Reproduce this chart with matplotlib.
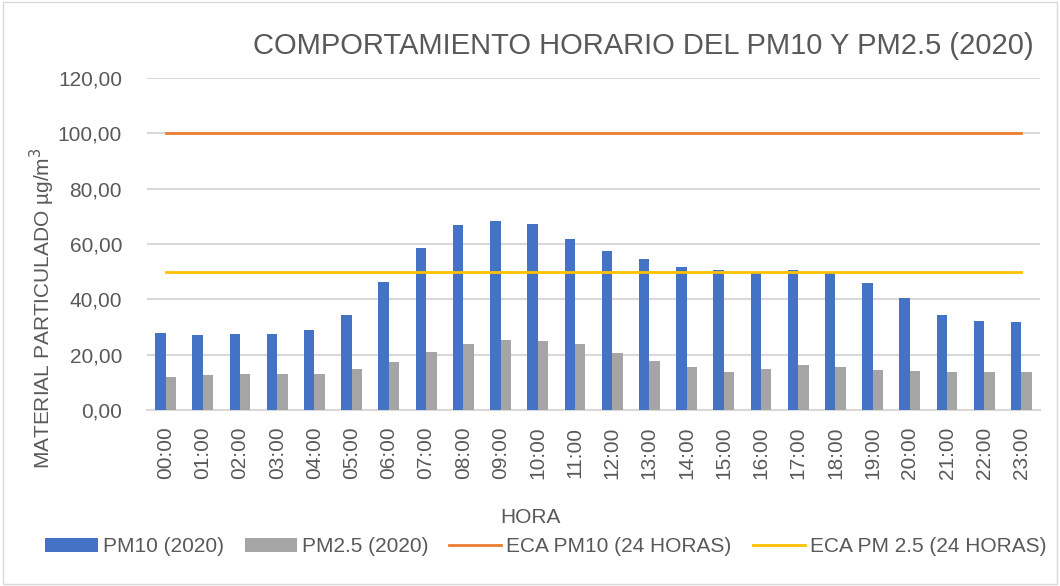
import matplotlib.pyplot as plt
import numpy as np
from matplotlib.patches import Rectangle

plt.rcParams['font.family'] = ['Liberation Sans', 'DejaVu Sans']

horas = ["%02d:00" % h for h in range(24)]
pm10 = [27.7, 27.2, 27.5, 27.3, 28.8, 34.2, 46.1, 58.4, 66.7, 68.3, 67.2, 61.8,
        57.3, 54.6, 51.7, 50.6, 49.5, 50.6, 49.8, 46.0, 40.6, 34.2, 32.2, 31.7]
pm25 = [12.0, 12.8, 12.9, 13.0, 12.9, 14.7, 17.3, 21.1, 23.7, 25.4, 25.0, 23.7,
        20.6, 17.8, 15.5, 13.7, 14.7, 16.3, 15.4, 14.3, 14.1, 13.6, 13.6, 13.7]
eca_pm10 = [100] * 24
eca_pm25 = [50] * 24

text_color = '#595959'
grid_color = '#d9d9d9'

fig = plt.figure(figsize=(10.6, 5.86), dpi=100)
fig.patches.append(Rectangle((0.003, 0.003), 0.994, 0.994, transform=fig.transFigure,
                             fill=False, edgecolor=grid_color, linewidth=1))
ax = fig.add_axes([0.1387, 0.3003, 0.8425, 0.5666])

x = np.arange(len(horas))
w = 0.28
b1 = ax.bar(x - w / 2, pm10, w, color='#4472C4', label='PM10 (2020)', zorder=3)
b2 = ax.bar(x + w / 2, pm25, w, color='#A5A5A5', label='PM2.5 (2020)', zorder=3)
l1, = ax.plot(x, eca_pm10, color='#ED7D31', linewidth=2, label='ECA PM10 (24 HORAS)', zorder=4)
l2, = ax.plot(x, eca_pm25, color='#FFC000', linewidth=2, label='ECA PM 2.5 (24 HORAS)', zorder=4)

ax.set_xlim(-0.5, 23.5)
ax.set_ylim(0, 120)
ax.set_yticks(range(0, 121, 20))
ax.set_yticklabels(["%d,00" % v for v in range(0, 121, 20)])
ax.set_xticks(x)
ax.set_xticklabels(horas, rotation=90)
ax.tick_params(axis='both', length=0, labelsize=15, colors=text_color)
ax.tick_params(axis='y', pad=18)
ax.tick_params(axis='x', pad=12)
ax.grid(axis='y', color=grid_color, linewidth=1.5, zorder=0)
for s in ['top', 'right', 'left']:
    ax.spines[s].set_visible(False)
ax.spines['bottom'].set_color(grid_color)
ax.spines['bottom'].set_linewidth(1.5)

fig.text(0.040, 0.474, 'MATERIAL PARTICULADO µg/m$^3$', fontsize=15, color=text_color,
         rotation=90, ha='center', va='center')
fig.text(0.5, 0.117, 'HORA', fontsize=15, color=text_color, ha='center', va='center')
fig.text(0.975, 0.922, 'COMPORTAMIENTO HORARIO DEL PM10 Y PM2.5 (2020)',
         fontsize=21, color=text_color, ha='right', va='center')

leg = fig.legend([b1, b2, l1, l2], [h.get_label() for h in [b1, b2, l1, l2]],
                 loc='center', bbox_to_anchor=(0.515, 0.067), ncol=4, frameon=False,
                 fontsize=15, handlelength=2.5, handletextpad=0.25, columnspacing=1.0,
                 handleheight=0.6)
for t in leg.get_texts():
    t.set_color(text_color)

fig.savefig('out.png', dpi=100)
